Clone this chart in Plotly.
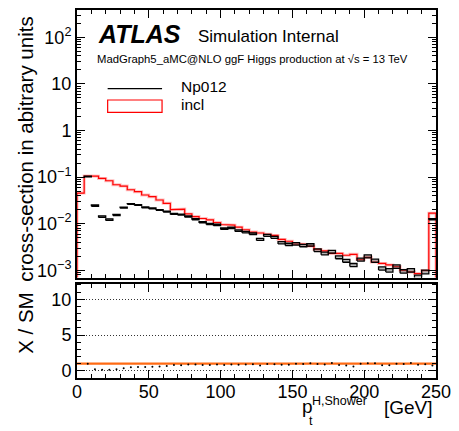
import plotly.graph_objects as go

# Binning: 50 bins of 5 GeV in pT(H, shower), last bin holds overflow
bin_edges = [5 * i for i in range(51)]

# incl sample (red histogram)
incl = [0.0454, 0.1048, 0.1045, 0.0934, 0.0833, 0.0684, 0.0641, 0.0535, 0.0485, 0.0412,
        0.0379, 0.0322, 0.0273, 0.0200, 0.0205, 0.0162, 0.0142, 0.0129, 0.0121, 0.0106,
        0.0096, 0.0093, 0.0084, 0.0074, 0.0066, 0.0063, 0.0059, 0.0056, 0.0046, 0.0042,
        0.0037, 0.0036, 0.0033, 0.0028, 0.0026, 0.0023, 0.0023, 0.0021, 0.0022, 0.0017,
        0.0019, 0.0015, 0.0014, 0.0013, 0.0012, 0.0010, 0.00092, 0.00085, 0.00099, 0.0168]

# Np012 sample (black boxes), first bin empty
np012 = [0.0, 0.103, 0.0244, 0.0142, 0.0122, 0.0154, 0.0221, 0.0265, 0.0252, 0.0224,
         0.0213, 0.0197, 0.0182, 0.0162, 0.0157, 0.0142, 0.0125, 0.0107, 0.0099, 0.0094,
         0.0078, 0.0081, 0.0071, 0.0066, 0.0061, 0.0046, 0.0056, 0.0051, 0.0039, 0.0036,
         0.0037, 0.0034, 0.0035, 0.0027, 0.0023, 0.0025, 0.0019, 0.0016, 0.0013, 0.0017,
         0.0020, 0.0016, 0.0011, 0.0010, 0.0012, 0.00095, 0.0010, 0.00072, 0.00092, 0.0125]

# relative statistical uncertainty of Np012 per bin
np012_relerr = [0.0, 0.02, 0.03, 0.04, 0.04, 0.03, 0.025, 0.02, 0.02, 0.02,
                0.02, 0.02, 0.025, 0.025, 0.025, 0.03, 0.03, 0.03, 0.03, 0.035,
                0.035, 0.035, 0.04, 0.04, 0.04, 0.05, 0.05, 0.05, 0.055, 0.055,
                0.06, 0.06, 0.06, 0.065, 0.065, 0.065, 0.07, 0.07, 0.075, 0.075,
                0.075, 0.08, 0.08, 0.085, 0.085, 0.09, 0.09, 0.09, 0.09, 0.03]

log_tick_vals = [1e-3, 1e-2, 1e-1, 1, 10, 100]
log_tick_text = ["10<sup>\u22123</sup>", "10<sup>\u22122</sup>", "10<sup>\u22121</sup>",
                 "1", "10", "10<sup>2</sup>"]
ratio_ticks = [0, 5, 10]
x_ticks = [0, 50, 100, 150, 200, 250]

FONT = "Liberation Sans, Arial, sans-serif"
W, H = 459, 431
ML, MR, MT, MB = 77, 19, 8, 53
PW, PH = W - ML - MR, H - MT - MB


def px(x):
    return (x - ML) / PW


def py(y):
    return (H - MB - y) / PH


fig = go.Figure()

# incl: closed step histogram
lo = 1e-5
hx = [bin_edges[0]]
hy = [lo]
for i, v in enumerate(incl):
    hx += [bin_edges[i], bin_edges[i + 1]]
    hy += [v, v]
hx.append(bin_edges[-1])
hy.append(lo)
fig.add_trace(go.Scatter(x=hx, y=hy, mode="lines", line=dict(color="rgba(255,0,0,0.25)", width=3),
                         hoverinfo="skip", showlegend=False, xaxis="x", yaxis="y"))
fig.add_trace(go.Scatter(x=hx, y=hy, mode="lines", line=dict(color="#ff0000", width=1.2),
                         showlegend=False, xaxis="x", yaxis="y"))

# Np012: error boxes per bin
bx, by = [], []
for i, v in enumerate(np012):
    if v <= 0:
        continue
    a, b = bin_edges[i], bin_edges[i + 1]
    d = v * np012_relerr[i]
    bx += [a, b, b, a, a, None]
    by += [v - d, v - d, v + d, v + d, v - d, None]
fig.add_trace(go.Scatter(x=bx, y=by, mode="lines", fill="toself",
                         fillcolor="rgba(90,90,90,0.45)",
                         line=dict(color="black", width=1.3),
                         showlegend=False, xaxis="x", yaxis="y"))

# ratio panel
centers = [(bin_edges[i] + bin_edges[i + 1]) / 2 for i in range(len(incl))]
fig.add_trace(go.Scatter(x=[0, 250], y=[1, 1], mode="lines",
                         line=dict(color="#ff6a13", width=2.2),
                         showlegend=False, xaxis="x2", yaxis="y2"))
ratio = [n / r if n > 0 else None for n, r in zip(np012, incl)]
fig.add_trace(go.Scatter(x=centers, y=ratio, mode="markers",
                         marker=dict(color="black", size=2),
                         showlegend=False, xaxis="x2", yaxis="y2"))

axis_common = dict(showline=True, linecolor="black", linewidth=2, mirror="allticks",
                   ticks="inside", tickcolor="black", tickwidth=1, ticklen=8,
                   zeroline=False, showgrid=False,
                   tickfont=dict(family=FONT, size=18, color="black"))

top_dom = [py(277), 1]
bot_dom = [0, py(283)]

minor_log = [m * 10 ** e for e in range(-4, 3) for m in range(2, 10)]

fig.update_layout(
    width=W, height=H, margin=dict(l=ML, r=MR, t=MT, b=MB),
    paper_bgcolor="white", plot_bgcolor="white",
    font=dict(family=FONT, color="black"),
    xaxis=dict(axis_common, domain=[0, 1], anchor="y", range=[0, 250],
               tickvals=x_ticks, showticklabels=False,
               minor=dict(dtick=10, ticks="inside", ticklen=4, tickcolor="black")),
    yaxis=dict(axis_common, domain=top_dom, anchor="x", type="log",
               range=[-3.156, 2.585], tickvals=log_tick_vals, ticktext=log_tick_text,
               minor=dict(tickvals=minor_log, ticks="inside", ticklen=4, tickcolor="black")),
    xaxis2=dict(axis_common, domain=[0, 1], anchor="y2", range=[0, 250],
                tickvals=x_ticks, ticklabelstandoff=-4,
                minor=dict(dtick=10, ticks="inside", ticklen=4, tickcolor="black")),
    yaxis2=dict(axis_common, domain=bot_dom, anchor="x2", range=[-1, 12.2],
                tickvals=ratio_ticks, showgrid=True, gridcolor="#333333", gridwidth=1,
                griddash="1px,2px",
                minor=dict(dtick=1, tick0=0, ticks="inside", ticklen=4, tickcolor="black",
                           showgrid=False)),
)

ann = [
    dict(text="<b><i>ATLAS</i></b>", x=px(96), y=py(32), size=25),
    dict(text="Simulation Internal", x=px(197), y=py(35), size=17),
    dict(text="MadGraph5_aMC@NLO ggF Higgs production at \u221as = 13 TeV", x=px(95), y=py(57), size=11.3),
    dict(text="Np012", x=px(180), y=py(85), size=15.5),
    dict(text="incl", x=px(180), y=py(103), size=15.5),
    dict(text="p", x=px(302), y=py(407), size=19),
    dict(text="H,Shower", x=px(313), y=py(401), size=12.5),
    dict(text="t", x=px(310), y=py(421), size=12.5),
    dict(text="[GeV]", x=px(385), y=py(408), size=19),
]
for a in ann:
    fig.add_annotation(text=a["text"], x=a["x"], y=a["y"], xref="paper", yref="paper",
                       xanchor="left", yanchor="middle", showarrow=False,
                       font=dict(family=FONT, size=a["size"], color="black"))

# rotated axis titles
fig.add_annotation(text="cross-section in abitrary units", x=px(25), y=py(148),
                   xref="paper", yref="paper", xanchor="center", yanchor="middle",
                   textangle=-90, showarrow=False,
                   font=dict(family=FONT, size=20.5, color="black"))
fig.add_annotation(text="X / SM", x=px(25), y=py(323),
                   xref="paper", yref="paper", xanchor="center", yanchor="middle",
                   textangle=-90, showarrow=False,
                   font=dict(family=FONT, size=20.5, color="black"))

# legend glyphs
fig.add_shape(type="line", xref="paper", yref="paper", x0=px(108), x1=px(163),
              y0=py(87), y1=py(87), line=dict(color="black", width=1.3))
fig.add_shape(type="rect", xref="paper", yref="paper", x0=px(108), x1=px(163),
              y0=py(98.5), y1=py(111), line=dict(color="#ff0000", width=1.2),
              fillcolor="rgba(0,0,0,0)")

fig.write_html("out.html")
